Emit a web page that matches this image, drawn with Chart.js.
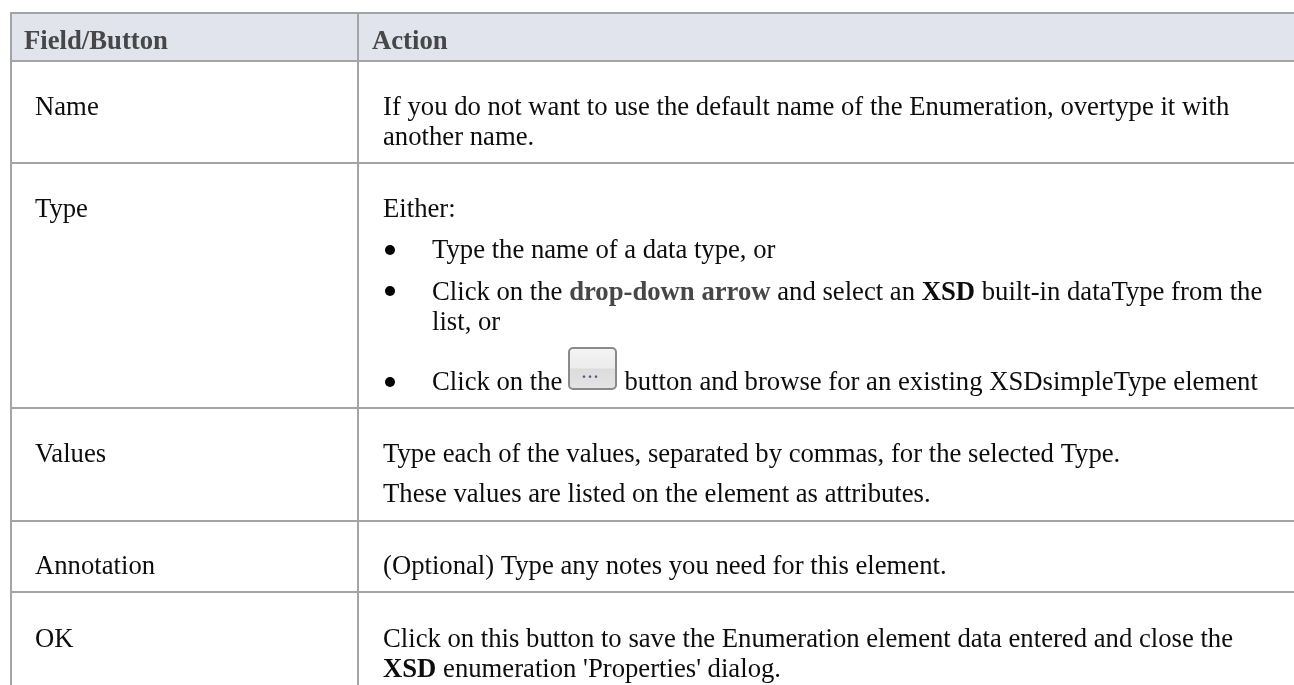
<!DOCTYPE html>
<html><head><meta charset="utf-8">
<style>html,body{margin:0;padding:0;background:#fff}canvas{display:block;filter:blur(0.35px)}</style>
<script src="https://cdn.jsdelivr.net/npm/chart.js@4/dist/chart.umd.min.js"></script>
</head><body><canvas id="c" width="1294" height="685"></canvas>
<script>
// Table content
const headers = ["Field/Button", "Action"];
const fieldNames = ["Name", "Type", "Values", "Annotation", "OK"];
const nameAction = ["If you do not want to use the default name of the Enumeration, overtype it with", "another name."];
const typeIntro = ["Either:"];
const typeBullet1 = ["Type the name of a data type, or"];
const typeBullet2 = ["Click on the ", "*drop-down arrow", " and select an ", "+XSD", " built-in dataType from the"];
const typeBullet2b = ["list, or"];
const typeBullet3a = ["Click on the"];
const typeBullet3b = ["button and browse for an existing XSDsimpleType element"];
const valuesAction = ["Type each of the values, separated by commas, for the selected Type.", "These values are listed on the element as attributes."];
const annotationAction = ["(Optional) Type any notes you need for this element."];
const okAction1 = ["Click on this button to save the Enumeration element data entered and close the"];
const okAction2 = ["+XSD", " enumeration 'Properties' dialog."];
const buttonGlyph = ["..."];
// Table structure, read as axis ticks
const rowEdges = [13, 61, 163, 408, 521, 592];
const columnEdges = [10.5, 358];

const FONT = '"Liberation Serif","Times New Roman",serif';
const SIZE = 26.7;
const INK = '#0d0d0d', MUTED = '#474747', RULE = '#a4a4a4', BAND = '#e1e4ec';

function runs(ctx, parts, x, y) {
  parts.forEach(p => {
    let text = p, bold = false, color = INK;
    if (p[0] === '*') { text = p.slice(1); bold = true; color = MUTED; }
    if (p[0] === '+') { text = p.slice(1); bold = true; color = INK; }
    ctx.font = (bold ? 'bold ' : '') + SIZE + 'px ' + FONT;
    ctx.fillStyle = color;
    ctx.fillText(text, x, y);
    x += ctx.measureText(text).width;
  });
  return x;
}

const tablePlugin = {
  id: 'tablePlugin',
  beforeDraw(chart) {
    const {ctx, chartArea: a, scales: {y}} = chart;
    ctx.save();
    ctx.fillStyle = BAND;
    ctx.fillRect(a.left, y.getPixelForValue(rowEdges[0]), a.right - a.left, y.getPixelForValue(rowEdges[1]) - y.getPixelForValue(rowEdges[0]));
    ctx.restore();
  },
  afterDraw(chart) {
    const {ctx, scales: {x, y}} = chart;
    const px = v => x.getPixelForValue(v), py = v => y.getPixelForValue(v);
    ctx.save();
    ctx.textBaseline = 'alphabetic';
    ctx.textAlign = 'left';
    // header
    ctx.font = 'bold ' + SIZE + 'px ' + FONT;
    ctx.fillStyle = MUTED;
    ctx.fillText(headers[0], px(24), py(49));
    ctx.fillText(headers[1], px(372), py(49));
    // first column
    const fieldY = [115, 217, 462, 574, 647];
    fieldNames.forEach((t, i) => runs(ctx, [t], px(35), py(fieldY[i])));
    // second column
    const L = 383, B = 432;
    runs(ctx, [nameAction[0]], px(L), py(115));
    runs(ctx, [nameAction[1]], px(L), py(145));
    runs(ctx, typeIntro, px(L), py(217));
    runs(ctx, typeBullet1, px(B), py(258));
    runs(ctx, typeBullet2, px(B), py(300));
    runs(ctx, typeBullet2b, px(B), py(330));
    runs(ctx, typeBullet3a, px(B), py(390));
    runs(ctx, typeBullet3b, px(624.5), py(390));
    runs(ctx, [valuesAction[0]], px(L), py(462));
    runs(ctx, [valuesAction[1]], px(L), py(502));
    runs(ctx, annotationAction, px(L), py(574));
    runs(ctx, okAction1, px(L), py(647));
    runs(ctx, okAction2, px(L), py(677));
    // bullets
    ctx.fillStyle = '#000';
    [250, 291, 382].forEach(v => { ctx.beginPath(); ctx.arc(px(390), py(v), 5, 0, Math.PI * 2); ctx.fill(); });
    // inline button picture
    const bx = px(569), by = py(348), bw = 47, bh = 41;
    const g = ctx.createLinearGradient(0, by, 0, by + bh);
    g.addColorStop(0, '#f4f4f4'); g.addColorStop(0.48, '#ececec'); g.addColorStop(0.52, '#dcdcdc'); g.addColorStop(1, '#e4e4e4');
    ctx.beginPath(); ctx.roundRect(bx, by, bw, bh, 4);
    ctx.fillStyle = g; ctx.fill();
    ctx.lineWidth = 2; ctx.strokeStyle = '#8a8a8a'; ctx.stroke();
    ctx.font = 'bold 16px ' + FONT;
    ctx.fillStyle = '#6a4a8a';
    ctx.textAlign = 'center';
    ctx.letterSpacing = '2px';
    ctx.fillText(buttonGlyph[0], px(591), py(378));
    ctx.restore();
  }
};

new Chart(document.getElementById('c'), {
  type: 'scatter',
  data: { datasets: [{ data: [], pointRadius: 0 }] },
  plugins: [tablePlugin],
  options: {
    responsive: false, animation: false, events: [],
    layout: { padding: { left: 10, top: 12, right: 0, bottom: 0 } },
    plugins: { legend: { display: false }, title: { display: false }, tooltip: { enabled: false } },
    scales: {
      x: {
        type: 'linear', min: 10, max: 1294, position: 'top',
        afterBuildTicks(s) { s.ticks = columnEdges.map(v => ({ value: v })); },
        ticks: { display: false },
        border: { display: false },
        grid: { color: RULE, lineWidth: 2, drawTicks: false }
      },
      y: {
        type: 'linear', min: 12, max: 685, reverse: true,
        afterBuildTicks(s) { s.ticks = rowEdges.map(v => ({ value: v })); },
        ticks: { display: false },
        border: { display: false },
        grid: { color: RULE, lineWidth: 2, drawTicks: false }
      }
    }
  }
});
</script></body></html>
